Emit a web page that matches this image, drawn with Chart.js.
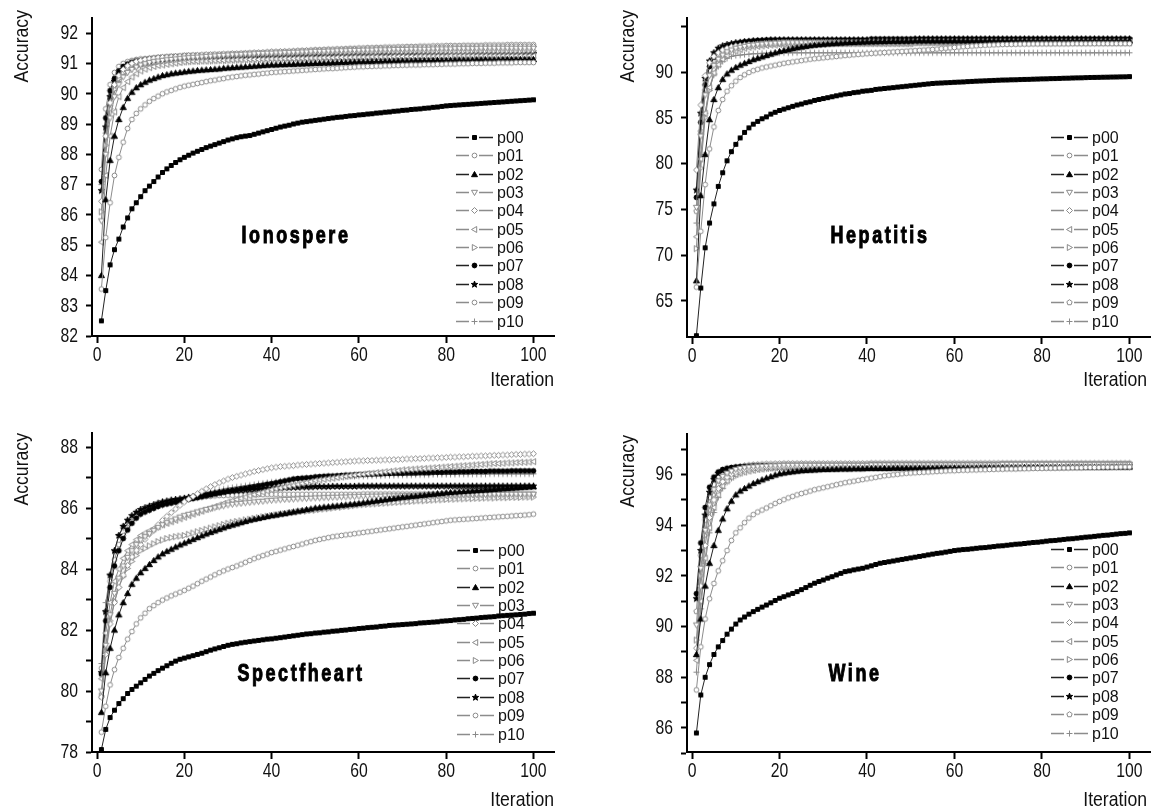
<!DOCTYPE html>
<html>
<head>
<meta charset="utf-8">
<title>Accuracy vs iteration</title>
<script src="https://cdn.jsdelivr.net/npm/chart.js@4.4.1/dist/chart.umd.min.js"></script>
<style>
  html, body { margin: 0; padding: 0; background: #fff; }
  #page { position: relative; width: 1156px; height: 809px; overflow: hidden; }
  .cell { position: absolute; }
</style>
</head>
<body>
<div id="page">
  <div class="cell" style="left:0;top:0;width:578px;height:404px"><canvas id="ion"></canvas></div>
  <div class="cell" style="left:578px;top:0;width:578px;height:404px"><canvas id="hep"></canvas></div>
  <div class="cell" style="left:0;top:404px;width:578px;height:405px"><canvas id="spe"></canvas></div>
  <div class="cell" style="left:578px;top:404px;width:578px;height:405px"><canvas id="win"></canvas></div>
</div>
<script>
// iterations 1..100 on the x axis
const iterations = Array.from({ length: 100 }, (_, i) => i + 1);
const seriesNames = ["p00", "p01", "p02", "p03", "p04", "p05", "p06", "p07", "p08", "p09", "p10"];
const xTicks = [0, 20, 40, 60, 80, 100];

const ionYTicks = [82, 83, 84, 85, 86, 87, 88, 89, 90, 91, 92];
const ionYLabels = [82, 83, 84, 85, 86, 87, 88, 89, 90, 91, 92];
const hepYTicks = [65, 70, 75, 80, 85, 90, 95];
const hepYLabels = [65, 70, 75, 80, 85, 90];
const speYTicks = [78, 79, 80, 81, 82, 83, 84, 85, 86, 87, 88];
const speYLabels = [78, 80, 82, 84, 86, 88];
const winYTicks = [85, 86, 87, 88, 89, 90, 91, 92, 93, 94, 95, 96, 97];
const winYLabels = [86, 88, 90, 92, 94, 96];

// ---- Ionospere, accuracy per iteration ----
const ionospere = [
  // p00
  [82.5, 83.5, 84.35, 84.85, 85.2, 85.6, 85.9, 86.2, 86.4, 86.6,
   86.8, 86.95, 87.1, 87.25, 87.4, 87.52, 87.63, 87.73, 87.82, 87.9,
   87.97, 88.04, 88.1, 88.16, 88.22, 88.27, 88.32, 88.37, 88.42, 88.47,
   88.51, 88.55, 88.58, 88.6, 88.62, 88.66, 88.7, 88.74, 88.78, 88.82,
   88.86, 88.9, 88.93, 88.96, 89, 89.03, 89.06, 89.08, 89.1, 89.12,
   89.14, 89.16, 89.18, 89.2, 89.22, 89.23, 89.25, 89.27, 89.28, 89.3,
   89.31, 89.33, 89.34, 89.36, 89.37, 89.39, 89.4, 89.42, 89.43, 89.45,
   89.46, 89.48, 89.49, 89.5, 89.52, 89.53, 89.55, 89.56, 89.58, 89.6,
   89.61, 89.62, 89.63, 89.64, 89.65, 89.66, 89.67, 89.68, 89.69, 89.7,
   89.71, 89.72, 89.73, 89.74, 89.75, 89.76, 89.77, 89.78, 89.79, 89.8],
  // p01
  [83.55, 85.25, 86.4, 87.3, 87.9, 88.4, 88.85, 89.15, 89.35, 89.5,
   89.63, 89.75, 89.84, 89.92, 90, 90.06, 90.11, 90.16, 90.21, 90.25,
   90.28, 90.31, 90.34, 90.37, 90.4, 90.43, 90.45, 90.48, 90.5, 90.53,
   90.55, 90.57, 90.59, 90.61, 90.62, 90.64, 90.65, 90.67, 90.68, 90.7,
   90.71, 90.72, 90.73, 90.74, 90.75, 90.76, 90.77, 90.78, 90.79, 90.8,
   90.81, 90.82, 90.83, 90.83, 90.84, 90.85, 90.86, 90.87, 90.88, 90.89,
   90.89, 90.9, 90.9, 90.91, 90.91, 90.92, 90.92, 90.93, 90.93, 90.94,
   90.94, 90.95, 90.95, 90.95, 90.96, 90.96, 90.96, 90.97, 90.97, 90.98,
   90.98, 90.98, 90.99, 90.99, 90.99, 91, 91, 91, 91.01, 91.01,
   91.01, 91.02, 91.02, 91.02, 91.02, 91.03, 91.03, 91.03, 91.03, 91.03],
  // p02
  [84, 86.5, 87.8, 88.6, 89.15, 89.55, 89.85, 90.05, 90.2, 90.3,
   90.38, 90.45, 90.5, 90.55, 90.6, 90.63, 90.66, 90.68, 90.7, 90.72,
   90.74, 90.75, 90.77, 90.78, 90.79, 90.8, 90.81, 90.82, 90.84, 90.85,
   90.86, 90.87, 90.88, 90.89, 90.9, 90.91, 90.92, 90.93, 90.94, 90.95,
   90.95, 90.96, 90.96, 90.97, 90.97, 90.98, 90.98, 90.99, 90.99, 91,
   91, 91.01, 91.01, 91.02, 91.02, 91.03, 91.03, 91.04, 91.04, 91.05,
   91.05, 91.05, 91.06, 91.06, 91.06, 91.07, 91.07, 91.07, 91.08, 91.08,
   91.08, 91.08, 91.09, 91.09, 91.09, 91.09, 91.1, 91.1, 91.1, 91.1,
   91.1, 91.11, 91.11, 91.11, 91.11, 91.11, 91.12, 91.12, 91.12, 91.12,
   91.12, 91.12, 91.13, 91.13, 91.13, 91.13, 91.13, 91.13, 91.13, 91.13],
  // p03
  [85.8, 88, 89.2, 89.9, 90.3, 90.55, 90.7, 90.8, 90.88, 90.95,
   90.99, 91.03, 91.06, 91.08, 91.1, 91.12, 91.13, 91.15, 91.16, 91.18,
   91.19, 91.2, 91.21, 91.22, 91.23, 91.24, 91.25, 91.26, 91.27, 91.28,
   91.29, 91.29, 91.3, 91.31, 91.31, 91.32, 91.33, 91.33, 91.34, 91.34,
   91.35, 91.35, 91.36, 91.36, 91.37, 91.37, 91.38, 91.38, 91.39, 91.4,
   91.4, 91.4, 91.41, 91.41, 91.42, 91.42, 91.42, 91.43, 91.43, 91.43,
   91.44, 91.44, 91.44, 91.45, 91.45, 91.45, 91.45, 91.46, 91.46, 91.46,
   91.46, 91.47, 91.47, 91.47, 91.47, 91.47, 91.48, 91.48, 91.48, 91.48,
   91.48, 91.49, 91.49, 91.49, 91.49, 91.49, 91.49, 91.5, 91.5, 91.5,
   91.5, 91.5, 91.5, 91.5, 91.5, 91.5, 91.5, 91.5, 91.5, 91.5],
  // p04
  [86.45, 88.6, 89.7, 90.3, 90.6, 90.8, 90.92, 91, 91.06, 91.1,
   91.13, 91.15, 91.17, 91.19, 91.2, 91.21, 91.22, 91.23, 91.24, 91.25,
   91.26, 91.27, 91.27, 91.28, 91.29, 91.29, 91.3, 91.3, 91.31, 91.31,
   91.32, 91.32, 91.33, 91.33, 91.34, 91.35, 91.35, 91.36, 91.37, 91.38,
   91.38, 91.39, 91.39, 91.4, 91.4, 91.41, 91.41, 91.42, 91.42, 91.43,
   91.43, 91.44, 91.44, 91.44, 91.45, 91.45, 91.46, 91.46, 91.46, 91.47,
   91.47, 91.48, 91.48, 91.48, 91.49, 91.49, 91.49, 91.5, 91.5, 91.5,
   91.51, 91.51, 91.51, 91.52, 91.52, 91.52, 91.52, 91.53, 91.53, 91.53,
   91.53, 91.54, 91.54, 91.54, 91.54, 91.54, 91.55, 91.55, 91.55, 91.55,
   91.55, 91.55, 91.56, 91.56, 91.56, 91.56, 91.56, 91.56, 91.56, 91.56],
  // p05
  [85.1, 87.3, 88.6, 89.4, 89.9, 90.2, 90.4, 90.55, 90.66, 90.75,
   90.81, 90.86, 90.9, 90.93, 90.95, 90.97, 90.99, 91.01, 91.03, 91.05,
   91.06, 91.07, 91.07, 91.08, 91.08, 91.09, 91.09, 91.1, 91.1, 91.11,
   91.11, 91.12, 91.12, 91.12, 91.13, 91.13, 91.13, 91.14, 91.14, 91.15,
   91.15, 91.15, 91.16, 91.16, 91.16, 91.17, 91.17, 91.17, 91.18, 91.18,
   91.18, 91.19, 91.19, 91.19, 91.2, 91.2, 91.2, 91.2, 91.21, 91.21,
   91.21, 91.21, 91.22, 91.22, 91.22, 91.22, 91.22, 91.23, 91.23, 91.23,
   91.23, 91.23, 91.23, 91.24, 91.24, 91.24, 91.24, 91.24, 91.24, 91.24,
   91.25, 91.25, 91.25, 91.25, 91.25, 91.25, 91.25, 91.25, 91.25, 91.25,
   91.25, 91.25, 91.25, 91.25, 91.25, 91.25, 91.25, 91.25, 91.25, 91.25],
  // p06
  [86.1, 88.3, 89.5, 90.15, 90.5, 90.7, 90.84, 90.94, 91.01, 91.06,
   91.1, 91.13, 91.15, 91.17, 91.19, 91.2, 91.21, 91.22, 91.23, 91.24,
   91.25, 91.25, 91.26, 91.26, 91.27, 91.27, 91.28, 91.28, 91.29, 91.29,
   91.3, 91.3, 91.3, 91.31, 91.31, 91.31, 91.32, 91.32, 91.32, 91.33,
   91.33, 91.33, 91.34, 91.34, 91.34, 91.35, 91.35, 91.35, 91.35, 91.36,
   91.36, 91.36, 91.36, 91.37, 91.37, 91.37, 91.37, 91.37, 91.38, 91.38,
   91.38, 91.38, 91.38, 91.38, 91.39, 91.39, 91.39, 91.39, 91.39, 91.39,
   91.39, 91.4, 91.4, 91.4, 91.4, 91.4, 91.4, 91.4, 91.4, 91.4,
   91.4, 91.4, 91.4, 91.4, 91.4, 91.41, 91.41, 91.41, 91.41, 91.41,
   91.41, 91.41, 91.41, 91.41, 91.41, 91.41, 91.41, 91.42, 91.42, 91.42],
  // p07
  [87.1, 89.2, 90.1, 90.5, 90.75, 90.9, 90.98, 91.04, 91.08, 91.1,
   91.12, 91.14, 91.16, 91.18, 91.19, 91.2, 91.21, 91.22, 91.23, 91.24,
   91.24, 91.25, 91.25, 91.25, 91.26, 91.26, 91.26, 91.27, 91.27, 91.27,
   91.27, 91.28, 91.28, 91.28, 91.28, 91.29, 91.29, 91.29, 91.29, 91.3,
   91.3, 91.3, 91.3, 91.3, 91.31, 91.31, 91.31, 91.31, 91.31, 91.31,
   91.32, 91.32, 91.32, 91.32, 91.32, 91.32, 91.32, 91.33, 91.33, 91.33,
   91.33, 91.33, 91.33, 91.33, 91.33, 91.34, 91.34, 91.34, 91.34, 91.34,
   91.34, 91.34, 91.34, 91.34, 91.34, 91.35, 91.35, 91.35, 91.35, 91.35,
   91.35, 91.35, 91.35, 91.35, 91.35, 91.35, 91.35, 91.35, 91.35, 91.35,
   91.35, 91.35, 91.35, 91.35, 91.35, 91.35, 91.35, 91.35, 91.35, 91.35],
  // p08
  [86.8, 88.9, 89.9, 90.4, 90.65, 90.8, 90.9, 90.96, 91.01, 91.05,
   91.07, 91.09, 91.11, 91.13, 91.14, 91.15, 91.16, 91.17, 91.18, 91.19,
   91.19, 91.2, 91.2, 91.21, 91.21, 91.21, 91.22, 91.22, 91.22, 91.23,
   91.23, 91.23, 91.24, 91.24, 91.24, 91.24, 91.25, 91.25, 91.25, 91.25,
   91.26, 91.26, 91.26, 91.26, 91.27, 91.27, 91.27, 91.27, 91.28, 91.28,
   91.28, 91.28, 91.28, 91.29, 91.29, 91.29, 91.29, 91.29, 91.29, 91.3,
   91.3, 91.3, 91.3, 91.3, 91.3, 91.3, 91.31, 91.31, 91.31, 91.31,
   91.31, 91.31, 91.31, 91.31, 91.31, 91.32, 91.32, 91.32, 91.32, 91.32,
   91.32, 91.32, 91.32, 91.32, 91.32, 91.32, 91.32, 91.32, 91.32, 91.32,
   91.32, 91.32, 91.32, 91.32, 91.32, 91.32, 91.32, 91.32, 91.32, 91.32],
  // p09
  [87.5, 89.5, 90.3, 90.7, 90.9, 91, 91.06, 91.1, 91.13, 91.15,
   91.16, 91.17, 91.18, 91.19, 91.2, 91.21, 91.22, 91.23, 91.23, 91.24,
   91.25, 91.25, 91.26, 91.26, 91.27, 91.27, 91.28, 91.28, 91.29, 91.3,
   91.31, 91.31, 91.32, 91.33, 91.34, 91.35, 91.35, 91.36, 91.37, 91.38,
   91.38, 91.39, 91.4, 91.4, 91.41, 91.42, 91.43, 91.43, 91.44, 91.45,
   91.45, 91.46, 91.47, 91.47, 91.48, 91.48, 91.49, 91.5, 91.5, 91.51,
   91.51, 91.52, 91.52, 91.53, 91.53, 91.54, 91.54, 91.54, 91.55, 91.55,
   91.56, 91.56, 91.56, 91.57, 91.57, 91.57, 91.58, 91.58, 91.58, 91.59,
   91.59, 91.59, 91.59, 91.6, 91.6, 91.6, 91.6, 91.6, 91.61, 91.61,
   91.61, 91.61, 91.61, 91.62, 91.62, 91.62, 91.62, 91.62, 91.62, 91.62],
  // p10
  [87, 88.7, 89.6, 90.1, 90.4, 90.6, 90.71, 90.8, 90.86, 90.9,
   90.93, 90.95, 90.97, 90.98, 91, 91.01, 91.02, 91.03, 91.04, 91.05,
   91.05, 91.06, 91.06, 91.07, 91.07, 91.07, 91.08, 91.08, 91.08, 91.09,
   91.09, 91.09, 91.09, 91.1, 91.1, 91.1, 91.1, 91.1, 91.1, 91.1,
   91.11, 91.11, 91.11, 91.11, 91.11, 91.12, 91.12, 91.12, 91.12, 91.12,
   91.13, 91.13, 91.13, 91.13, 91.13, 91.14, 91.14, 91.14, 91.14, 91.14,
   91.15, 91.15, 91.15, 91.15, 91.15, 91.15, 91.16, 91.16, 91.16, 91.16,
   91.16, 91.16, 91.16, 91.17, 91.17, 91.17, 91.17, 91.17, 91.17, 91.17,
   91.17, 91.17, 91.18, 91.18, 91.18, 91.18, 91.18, 91.18, 91.18, 91.18,
   91.18, 91.18, 91.18, 91.18, 91.18, 91.18, 91.18, 91.18, 91.18, 91.18]
];

// ---- Hepatitis ----
const hepatitis = [
  // p00
  [61.2, 66.4, 70.8, 73.5, 75.6, 77.5, 79, 80.3, 81.3, 82.1,
   82.8, 83.4, 83.9, 84.3, 84.6, 84.9, 85.1, 85.4, 85.6, 85.8,
   85.95, 86.1, 86.25, 86.4, 86.5, 86.65, 86.75, 86.9, 87, 87.1,
   87.2, 87.3, 87.4, 87.5, 87.6, 87.65, 87.75, 87.8, 87.9, 87.95,
   88, 88.1, 88.15, 88.2, 88.25, 88.3, 88.35, 88.4, 88.45, 88.5,
   88.55, 88.6, 88.65, 88.7, 88.75, 88.78, 88.8, 88.83, 88.85, 88.88,
   88.9, 88.92, 88.95, 88.97, 89, 89.02, 89.04, 89.06, 89.08, 89.1,
   89.12, 89.13, 89.15, 89.16, 89.18, 89.19, 89.2, 89.22, 89.23, 89.25,
   89.26, 89.28, 89.29, 89.3, 89.32, 89.33, 89.35, 89.36, 89.37, 89.39,
   89.4, 89.41, 89.42, 89.43, 89.44, 89.45, 89.46, 89.47, 89.48, 89.5],
  // p01
  [66.5, 72.6, 77.7, 81.6, 84, 85.8, 87, 87.9, 88.5, 89,
   89.4, 89.7, 89.95, 90.15, 90.3, 90.45, 90.55, 90.65, 90.75, 90.85,
   90.95, 91.03, 91.1, 91.18, 91.25, 91.32, 91.4, 91.45, 91.5, 91.55,
   91.6, 91.65, 91.7, 91.75, 91.8, 91.84, 91.88, 91.92, 91.96, 92,
   92.03, 92.06, 92.1, 92.13, 92.16, 92.19, 92.22, 92.25, 92.28, 92.31,
   92.34, 92.37, 92.4, 92.43, 92.46, 92.5, 92.55, 92.6, 92.64, 92.68,
   92.72, 92.76, 92.8, 92.83, 92.86, 92.89, 92.92, 92.94, 92.96, 92.98,
   93, 93.01, 93.02, 93.03, 93.04, 93.05, 93.05, 93.06, 93.06, 93.07,
   93.07, 93.07, 93.08, 93.08, 93.08, 93.08, 93.09, 93.09, 93.09, 93.09,
   93.09, 93.1, 93.1, 93.1, 93.1, 93.1, 93.1, 93.1, 93.1, 93.1],
  // p02
  [67.2, 76.5, 81, 84.8, 87, 88.3, 89.2, 89.8, 90.2, 90.5,
   90.75, 90.95, 91.15, 91.35, 91.5, 91.65, 91.8, 91.95, 92.1, 92.25,
   92.35, 92.45, 92.55, 92.65, 92.72, 92.8, 92.87, 92.93, 92.98, 93.03,
   93.07, 93.1, 93.13, 93.16, 93.19, 93.21, 93.23, 93.25, 93.27, 93.29,
   93.3, 93.31, 93.32, 93.33, 93.34, 93.35, 93.35, 93.36, 93.36, 93.37,
   93.4, 93.4, 93.4, 93.4, 93.4, 93.4, 93.4, 93.4, 93.4, 93.4,
   93.4, 93.4, 93.4, 93.4, 93.4, 93.4, 93.4, 93.4, 93.4, 93.4,
   93.4, 93.4, 93.4, 93.4, 93.4, 93.4, 93.4, 93.4, 93.4, 93.4,
   93.4, 93.4, 93.4, 93.4, 93.4, 93.4, 93.4, 93.4, 93.4, 93.4,
   93.4, 93.4, 93.4, 93.4, 93.4, 93.4, 93.4, 93.4, 93.4, 93.4],
  // p03
  [75.2, 83, 87.5, 89.6, 90.7, 91.4, 91.85, 92.2, 92.4, 92.6,
   92.7, 92.8, 92.9, 92.95, 93, 93.05, 93.1, 93.1, 93.15, 93.15,
   93.2, 93.2, 93.2, 93.2, 93.2, 93.2, 93.2, 93.2, 93.2, 93.2,
   93.2, 93.2, 93.2, 93.2, 93.2, 93.2, 93.2, 93.2, 93.2, 93.2,
   93.2, 93.2, 93.2, 93.2, 93.2, 93.2, 93.2, 93.2, 93.2, 93.2,
   93.3, 93.3, 93.3, 93.3, 93.3, 93.3, 93.3, 93.3, 93.3, 93.3,
   93.3, 93.3, 93.3, 93.3, 93.3, 93.3, 93.3, 93.3, 93.3, 93.3,
   93.3, 93.3, 93.3, 93.3, 93.3, 93.3, 93.3, 93.3, 93.3, 93.3,
   93.3, 93.3, 93.3, 93.3, 93.3, 93.3, 93.3, 93.3, 93.3, 93.3,
   93.3, 93.3, 93.3, 93.3, 93.3, 93.3, 93.3, 93.3, 93.3, 93.3],
  // p04
  [79.3, 86.4, 89.6, 91, 91.7, 92.1, 92.4, 92.6, 92.75, 92.85,
   92.9, 92.95, 93, 93, 93.05, 93.05, 93.1, 93.1, 93.1, 93.15,
   93.2, 93.2, 93.2, 93.2, 93.2, 93.2, 93.2, 93.2, 93.2, 93.2,
   93.2, 93.2, 93.2, 93.2, 93.2, 93.2, 93.2, 93.2, 93.2, 93.2,
   93.2, 93.2, 93.2, 93.2, 93.2, 93.2, 93.2, 93.2, 93.2, 93.2,
   93.2, 93.2, 93.2, 93.2, 93.2, 93.2, 93.2, 93.2, 93.2, 93.2,
   93.2, 93.2, 93.2, 93.2, 93.2, 93.2, 93.2, 93.2, 93.2, 93.2,
   93.2, 93.2, 93.2, 93.2, 93.2, 93.2, 93.2, 93.2, 93.2, 93.2,
   93.2, 93.2, 93.2, 93.2, 93.2, 93.2, 93.2, 93.2, 93.2, 93.2,
   93.2, 93.2, 93.2, 93.2, 93.2, 93.2, 93.2, 93.2, 93.2, 93.2],
  // p05
  [72, 80.5, 85.5, 88.3, 89.9, 90.8, 91.4, 91.8, 92.1, 92.3,
   92.45, 92.6, 92.7, 92.75, 92.8, 92.85, 92.9, 92.95, 92.95, 93,
   93, 93, 93, 93, 93, 93, 93, 93, 93, 93,
   93.1, 93.1, 93.1, 93.1, 93.1, 93.1, 93.1, 93.1, 93.1, 93.1,
   93.1, 93.1, 93.1, 93.1, 93.1, 93.1, 93.1, 93.1, 93.1, 93.1,
   93.2, 93.2, 93.2, 93.2, 93.2, 93.2, 93.2, 93.2, 93.2, 93.2,
   93.2, 93.2, 93.2, 93.2, 93.2, 93.2, 93.2, 93.2, 93.2, 93.2,
   93.2, 93.2, 93.2, 93.2, 93.2, 93.2, 93.2, 93.2, 93.2, 93.2,
   93.2, 93.2, 93.2, 93.2, 93.2, 93.2, 93.2, 93.2, 93.2, 93.2,
   93.2, 93.2, 93.2, 93.2, 93.2, 93.2, 93.2, 93.2, 93.2, 93.2],
  // p06
  [70.7, 79.5, 85, 88, 89.8, 90.9, 91.6, 92, 92.3, 92.5,
   92.65, 92.75, 92.85, 92.9, 93, 93.05, 93.1, 93.15, 93.15, 93.2,
   93.2, 93.2, 93.2, 93.2, 93.2, 93.2, 93.2, 93.2, 93.2, 93.2,
   93.2, 93.2, 93.2, 93.2, 93.2, 93.2, 93.2, 93.2, 93.2, 93.2,
   93.3, 93.3, 93.3, 93.3, 93.3, 93.3, 93.3, 93.3, 93.3, 93.3,
   93.3, 93.3, 93.3, 93.3, 93.3, 93.3, 93.3, 93.3, 93.3, 93.3,
   93.3, 93.3, 93.3, 93.3, 93.3, 93.3, 93.3, 93.3, 93.3, 93.3,
   93.3, 93.3, 93.3, 93.3, 93.3, 93.3, 93.3, 93.3, 93.3, 93.3,
   93.3, 93.3, 93.3, 93.3, 93.3, 93.3, 93.3, 93.3, 93.3, 93.3,
   93.3, 93.3, 93.3, 93.3, 93.3, 93.3, 93.3, 93.3, 93.3, 93.3],
  // p07
  [76.3, 84.5, 88.6, 90.6, 91.6, 92.2, 92.55, 92.8, 92.95, 93.1,
   93.2, 93.3, 93.35, 93.4, 93.45, 93.45, 93.5, 93.5, 93.5, 93.5,
   93.5, 93.5, 93.5, 93.5, 93.5, 93.5, 93.5, 93.5, 93.5, 93.5,
   93.5, 93.5, 93.5, 93.5, 93.5, 93.5, 93.5, 93.5, 93.5, 93.5,
   93.6, 93.6, 93.6, 93.6, 93.6, 93.6, 93.6, 93.6, 93.6, 93.6,
   93.6, 93.6, 93.6, 93.6, 93.6, 93.6, 93.6, 93.6, 93.6, 93.6,
   93.6, 93.6, 93.6, 93.6, 93.6, 93.6, 93.6, 93.6, 93.6, 93.6,
   93.6, 93.6, 93.6, 93.6, 93.6, 93.6, 93.6, 93.6, 93.6, 93.6,
   93.6, 93.6, 93.6, 93.6, 93.6, 93.6, 93.6, 93.6, 93.6, 93.6,
   93.6, 93.6, 93.6, 93.6, 93.6, 93.6, 93.6, 93.6, 93.6, 93.6],
  // p08
  [77.1, 85.5, 89.3, 91.2, 92.1, 92.6, 92.85, 93, 93.1, 93.2,
   93.25, 93.3, 93.35, 93.4, 93.4, 93.45, 93.45, 93.5, 93.5, 93.5,
   93.5, 93.5, 93.5, 93.5, 93.5, 93.5, 93.5, 93.5, 93.5, 93.5,
   93.5, 93.5, 93.5, 93.5, 93.5, 93.5, 93.5, 93.5, 93.5, 93.5,
   93.5, 93.5, 93.5, 93.5, 93.5, 93.5, 93.5, 93.5, 93.5, 93.5,
   93.6, 93.6, 93.6, 93.6, 93.6, 93.6, 93.6, 93.6, 93.6, 93.6,
   93.6, 93.6, 93.6, 93.6, 93.6, 93.6, 93.6, 93.6, 93.6, 93.6,
   93.6, 93.6, 93.6, 93.6, 93.6, 93.6, 93.6, 93.6, 93.6, 93.6,
   93.6, 93.6, 93.6, 93.6, 93.6, 93.6, 93.6, 93.6, 93.6, 93.6,
   93.6, 93.6, 93.6, 93.6, 93.6, 93.6, 93.6, 93.6, 93.6, 93.6],
  // p09
  [74.8, 83.5, 88, 90.2, 91.3, 91.9, 92.25, 92.5, 92.65, 92.75,
   92.85, 92.9, 92.95, 93, 93, 93.05, 93.05, 93.1, 93.1, 93.1,
   93.1, 93.1, 93.1, 93.1, 93.1, 93.1, 93.1, 93.1, 93.1, 93.1,
   93.1, 93.1, 93.1, 93.1, 93.1, 93.1, 93.1, 93.1, 93.1, 93.1,
   93.1, 93.1, 93.1, 93.1, 93.1, 93.1, 93.1, 93.1, 93.1, 93.1,
   93.2, 93.2, 93.2, 93.2, 93.2, 93.2, 93.2, 93.2, 93.2, 93.2,
   93.2, 93.2, 93.2, 93.2, 93.2, 93.2, 93.2, 93.2, 93.2, 93.2,
   93.2, 93.2, 93.2, 93.2, 93.2, 93.2, 93.2, 93.2, 93.2, 93.2,
   93.2, 93.2, 93.2, 93.2, 93.2, 93.2, 93.2, 93.2, 93.2, 93.2,
   93.2, 93.2, 93.2, 93.2, 93.2, 93.2, 93.2, 93.2, 93.2, 93.2],
  // p10
  [73.5, 81, 85.5, 88.2, 89.7, 90.6, 91.15, 91.5, 91.7, 91.8,
   91.85, 91.9, 91.95, 92, 92, 92.05, 92.05, 92.1, 92.1, 92.1,
   92.1, 92.1, 92.1, 92.1, 92.1, 92.1, 92.1, 92.1, 92.1, 92.1,
   92.1, 92.1, 92.1, 92.1, 92.1, 92.1, 92.1, 92.1, 92.1, 92.1,
   92.1, 92.1, 92.1, 92.1, 92.1, 92.1, 92.1, 92.1, 92.1, 92.1,
   92.1, 92.1, 92.1, 92.1, 92.1, 92.1, 92.1, 92.1, 92.1, 92.1,
   92.1, 92.1, 92.1, 92.1, 92.1, 92.1, 92.1, 92.1, 92.1, 92.1,
   92.1, 92.1, 92.1, 92.1, 92.1, 92.1, 92.1, 92.1, 92.1, 92.1,
   92.1, 92.1, 92.1, 92.1, 92.1, 92.1, 92.1, 92.1, 92.1, 92.1,
   92.1, 92.1, 92.1, 92.1, 92.1, 92.1, 92.1, 92.1, 92.1, 92.1]
];

// ---- Spectfheart ----
const spectfheart = [
  // p00
  [78.08, 78.74, 79.13, 79.37, 79.59, 79.75, 79.92, 80.05, 80.16, 80.27,
   80.38, 80.49, 80.58, 80.67, 80.75, 80.83, 80.91, 80.98, 81.04, 81.08,
   81.12, 81.16, 81.2, 81.24, 81.29, 81.34, 81.38, 81.42, 81.46, 81.5,
   81.53, 81.55, 81.58, 81.6, 81.62, 81.64, 81.66, 81.68, 81.7, 81.71,
   81.73, 81.75, 81.77, 81.79, 81.81, 81.83, 81.85, 81.87, 81.88, 81.9,
   81.91, 81.93, 81.94, 81.96, 81.97, 81.99, 82, 82.02, 82.03, 82.05,
   82.06, 82.08, 82.09, 82.1, 82.12, 82.13, 82.15, 82.16, 82.17, 82.18,
   82.19, 82.2, 82.21, 82.23, 82.24, 82.25, 82.26, 82.27, 82.29, 82.3,
   82.31, 82.33, 82.34, 82.35, 82.37, 82.38, 82.39, 82.41, 82.42, 82.43,
   82.44, 82.46, 82.47, 82.48, 82.49, 82.5, 82.51, 82.52, 82.54, 82.55],
  // p01
  [78.65, 79.5, 80.2, 80.7, 81.1, 81.4, 81.7, 81.95, 82.2, 82.4,
   82.55, 82.7, 82.8, 82.9, 82.98, 83.05, 83.12, 83.18, 83.24, 83.3,
   83.37, 83.44, 83.52, 83.6, 83.67, 83.74, 83.81, 83.88, 83.94, 84,
   84.05, 84.1, 84.16, 84.22, 84.28, 84.34, 84.39, 84.44, 84.49, 84.54,
   84.58, 84.62, 84.66, 84.7, 84.74, 84.78, 84.82, 84.86, 84.9, 84.94,
   84.97, 85, 85.03, 85.06, 85.08, 85.1, 85.12, 85.14, 85.16, 85.18,
   85.2, 85.22, 85.24, 85.26, 85.28, 85.3, 85.32, 85.34, 85.36, 85.38,
   85.4, 85.42, 85.44, 85.46, 85.48, 85.5, 85.52, 85.54, 85.56, 85.58,
   85.6, 85.61, 85.62, 85.63, 85.64, 85.65, 85.66, 85.67, 85.68, 85.69,
   85.7, 85.71, 85.72, 85.73, 85.74, 85.75, 85.76, 85.77, 85.78, 85.8],
  // p02
  [79.3, 80.6, 81.4, 82, 82.5, 82.9, 83.2, 83.5, 83.7, 83.88,
   84.02, 84.15, 84.28, 84.4, 84.5, 84.58, 84.65, 84.72, 84.79, 84.85,
   84.91, 84.97, 85.03, 85.09, 85.15, 85.2, 85.25, 85.3, 85.35, 85.4,
   85.44, 85.48, 85.52, 85.56, 85.6, 85.63, 85.66, 85.69, 85.72, 85.75,
   85.77, 85.8, 85.82, 85.85, 85.87, 85.9, 85.92, 85.95, 85.97, 86,
   86.01, 86.03, 86.04, 86.06, 86.07, 86.09, 86.1, 86.12, 86.13, 86.15,
   86.17, 86.19, 86.21, 86.23, 86.25, 86.27, 86.29, 86.31, 86.33, 86.35,
   86.36, 86.38, 86.39, 86.41, 86.42, 86.44, 86.45, 86.47, 86.48, 86.5,
   86.51, 86.52, 86.53, 86.54, 86.55, 86.56, 86.57, 86.58, 86.59, 86.6,
   86.61, 86.62, 86.63, 86.64, 86.65, 86.66, 86.67, 86.68, 86.69, 86.7],
  // p03
  [80, 81.5, 82.5, 83.2, 83.7, 84.1, 84.38, 84.6, 84.8, 84.95,
   85.06, 85.16, 85.26, 85.36, 85.45, 85.52, 85.58, 85.64, 85.7, 85.75,
   85.79, 85.83, 85.87, 85.91, 85.95, 85.98, 86.01, 86.04, 86.07, 86.1,
   86.12, 86.14, 86.15, 86.17, 86.18, 86.2, 86.21, 86.22, 86.24, 86.25,
   86.26, 86.27, 86.28, 86.28, 86.29, 86.3, 86.31, 86.31, 86.32, 86.33,
   86.33, 86.34, 86.34, 86.35, 86.35, 86.36, 86.36, 86.37, 86.37, 86.38,
   86.38, 86.38, 86.39, 86.39, 86.39, 86.4, 86.4, 86.4, 86.4, 86.41,
   86.41, 86.41, 86.41, 86.42, 86.42, 86.42, 86.42, 86.42, 86.43, 86.43,
   86.43, 86.43, 86.43, 86.44, 86.44, 86.44, 86.44, 86.44, 86.44, 86.44,
   86.45, 86.45, 86.45, 86.45, 86.45, 86.45, 86.45, 86.45, 86.45, 86.45],
  // p04
  [79.8, 81.2, 82.2, 82.9, 83.4, 83.8, 84.12, 84.4, 84.62, 84.8,
   84.98, 85.15, 85.3, 85.45, 85.6, 85.73, 85.85, 85.97, 86.09, 86.2,
   86.29, 86.38, 86.47, 86.55, 86.63, 86.7, 86.77, 86.83, 86.89, 86.95,
   87, 87.04, 87.08, 87.12, 87.16, 87.2, 87.23, 87.26, 87.29, 87.32,
   87.34, 87.36, 87.37, 87.38, 87.39, 87.41, 87.42, 87.43, 87.44, 87.45,
   87.46, 87.47, 87.48, 87.49, 87.5, 87.51, 87.52, 87.53, 87.54, 87.55,
   87.55, 87.56, 87.56, 87.57, 87.57, 87.58, 87.58, 87.59, 87.59, 87.6,
   87.61, 87.61, 87.62, 87.62, 87.63, 87.64, 87.64, 87.65, 87.65, 87.66,
   87.67, 87.67, 87.68, 87.68, 87.69, 87.7, 87.7, 87.71, 87.71, 87.72,
   87.73, 87.73, 87.74, 87.74, 87.75, 87.76, 87.76, 87.77, 87.77, 87.78],
  // p05
  [80.4, 81.9, 82.9, 83.6, 84, 84.35, 84.6, 84.8, 84.96, 85.1,
   85.18, 85.25, 85.32, 85.39, 85.45, 85.5, 85.55, 85.6, 85.65, 85.7,
   85.75, 85.8, 85.85, 85.9, 85.95, 86, 86.05, 86.1, 86.15, 86.2,
   86.24, 86.28, 86.32, 86.36, 86.4, 86.44, 86.48, 86.52, 86.56, 86.6,
   86.63, 86.66, 86.69, 86.72, 86.75, 86.78, 86.81, 86.84, 86.87, 86.9,
   86.92, 86.94, 86.96, 86.98, 87, 87.02, 87.04, 87.06, 87.08, 87.1,
   87.11, 87.13, 87.14, 87.16, 87.17, 87.19, 87.2, 87.22, 87.23, 87.25,
   87.26, 87.27, 87.28, 87.29, 87.3, 87.31, 87.32, 87.33, 87.34, 87.35,
   87.36, 87.37, 87.38, 87.39, 87.4, 87.41, 87.42, 87.43, 87.44, 87.45,
   87.46, 87.46, 87.47, 87.48, 87.48, 87.49, 87.5, 87.5, 87.51, 87.52],
  // p06
  [79.84, 81.3, 82.3, 82.95, 83.4, 83.75, 84.02, 84.25, 84.44, 84.6,
   84.68, 84.76, 84.83, 84.9, 84.95, 85, 85.03, 85.06, 85.08, 85.1,
   85.14, 85.18, 85.22, 85.26, 85.3, 85.34, 85.38, 85.42, 85.46, 85.5,
   85.53, 85.56, 85.58, 85.61, 85.63, 85.66, 85.68, 85.71, 85.73, 85.75,
   85.77, 85.79, 85.81, 85.83, 85.85, 85.87, 85.89, 85.9, 85.92, 85.93,
   85.95, 85.97, 85.98, 86, 86.02, 86.03, 86.05, 86.06, 86.08, 86.1,
   86.11, 86.12, 86.13, 86.14, 86.15, 86.16, 86.17, 86.18, 86.19, 86.2,
   86.21, 86.22, 86.23, 86.24, 86.24, 86.25, 86.26, 86.27, 86.27, 86.28,
   86.29, 86.29, 86.3, 86.3, 86.31, 86.31, 86.32, 86.32, 86.33, 86.33,
   86.33, 86.34, 86.34, 86.34, 86.35, 86.35, 86.35, 86.36, 86.36, 86.36],
  // p07
  [80.56, 82.3, 83.4, 84.1, 84.6, 85, 85.28, 85.5, 85.67, 85.8,
   85.87, 85.93, 85.99, 86.05, 86.1, 86.13, 86.16, 86.19, 86.22, 86.25,
   86.28, 86.31, 86.34, 86.37, 86.4, 86.43, 86.46, 86.49, 86.52, 86.55,
   86.58, 86.6, 86.63, 86.65, 86.68, 86.7, 86.73, 86.75, 86.78, 86.8,
   86.83, 86.86, 86.89, 86.92, 86.95, 86.97, 86.98, 86.99, 87, 87.02,
   87.03, 87.04, 87.05, 87.05, 87.06, 87.07, 87.08, 87.08, 87.09, 87.1,
   87.1, 87.11, 87.11, 87.12, 87.12, 87.13, 87.13, 87.14, 87.14, 87.14,
   87.15, 87.15, 87.15, 87.16, 87.16, 87.16, 87.17, 87.17, 87.17, 87.18,
   87.18, 87.18, 87.19, 87.19, 87.19, 87.2, 87.2, 87.2, 87.2, 87.21,
   87.21, 87.21, 87.21, 87.21, 87.22, 87.22, 87.22, 87.22, 87.22, 87.22],
  // p08
  [80.6, 82.6, 83.8, 84.6, 85.1, 85.4, 85.6, 85.75, 85.86, 85.95,
   86.01, 86.06, 86.11, 86.16, 86.2, 86.23, 86.26, 86.28, 86.3, 86.32,
   86.35, 86.37, 86.4, 86.42, 86.45, 86.47, 86.49, 86.51, 86.53, 86.55,
   86.56, 86.57, 86.58, 86.59, 86.6, 86.61, 86.62, 86.63, 86.64, 86.65,
   86.66, 86.66, 86.67, 86.67, 86.68, 86.68, 86.69, 86.69, 86.69, 86.7,
   86.7, 86.7, 86.7, 86.71, 86.71, 86.71, 86.71, 86.71, 86.71, 86.72,
   86.72, 86.72, 86.72, 86.72, 86.72, 86.72, 86.72, 86.72, 86.72, 86.72,
   86.72, 86.72, 86.72, 86.72, 86.72, 86.72, 86.72, 86.72, 86.72, 86.72,
   86.72, 86.72, 86.72, 86.72, 86.72, 86.72, 86.72, 86.72, 86.72, 86.72,
   86.72, 86.72, 86.72, 86.72, 86.72, 86.72, 86.72, 86.72, 86.72, 86.72],
  // p09
  [80.75, 82.6, 83.6, 84.3, 84.8, 85.1, 85.35, 85.55, 85.72, 85.85,
   85.93, 86, 86.06, 86.11, 86.15, 86.18, 86.21, 86.24, 86.27, 86.3,
   86.31, 86.33, 86.34, 86.36, 86.38, 86.39, 86.4, 86.41, 86.41, 86.42,
   86.42, 86.43, 86.43, 86.43, 86.44, 86.44, 86.44, 86.44, 86.45, 86.45,
   86.45, 86.45, 86.45, 86.45, 86.45, 86.45, 86.45, 86.45, 86.45, 86.45,
   86.45, 86.45, 86.45, 86.45, 86.45, 86.45, 86.45, 86.45, 86.45, 86.45,
   86.46, 86.46, 86.46, 86.46, 86.46, 86.46, 86.46, 86.46, 86.46, 86.46,
   86.46, 86.46, 86.46, 86.46, 86.46, 86.46, 86.46, 86.46, 86.46, 86.46,
   86.46, 86.46, 86.46, 86.46, 86.46, 86.46, 86.46, 86.46, 86.46, 86.46,
   86.46, 86.46, 86.46, 86.46, 86.46, 86.46, 86.46, 86.46, 86.46, 86.46],
  // p10
  [80.9, 82.9, 83.8, 84.6, 85.1, 85.35, 85.5, 85.6, 85.7, 85.8,
   85.87, 85.93, 85.99, 86.05, 86.1, 86.15, 86.19, 86.23, 86.27, 86.3,
   86.34, 86.38, 86.42, 86.46, 86.5, 86.53, 86.56, 86.59, 86.62, 86.65,
   86.67, 86.69, 86.71, 86.73, 86.75, 86.77, 86.79, 86.81, 86.83, 86.85,
   86.86, 86.88, 86.89, 86.91, 86.92, 86.94, 86.95, 86.97, 86.98, 87,
   87, 87.01, 87.01, 87.02, 87.02, 87.03, 87.03, 87.04, 87.04, 87.05,
   87.05, 87.05, 87.06, 87.06, 87.06, 87.07, 87.07, 87.07, 87.08, 87.08,
   87.08, 87.08, 87.09, 87.09, 87.09, 87.09, 87.1, 87.1, 87.1, 87.1,
   87.1, 87.1, 87.11, 87.11, 87.11, 87.11, 87.11, 87.11, 87.11, 87.12,
   87.12, 87.12, 87.12, 87.12, 87.12, 87.12, 87.12, 87.12, 87.12, 87.12]
];

// ---- Wine ----
const wine = [
  // p00
  [85.8, 87.3, 88, 88.5, 88.9, 89.2, 89.45, 89.7, 89.9, 90.1,
   90.26, 90.38, 90.49, 90.59, 90.68, 90.77, 90.85, 90.94, 91.03, 91.12,
   91.18, 91.25, 91.31, 91.38, 91.46, 91.54, 91.63, 91.71, 91.78, 91.84,
   91.91, 91.97, 92.04, 92.1, 92.17, 92.2, 92.24, 92.27, 92.3, 92.35,
   92.4, 92.45, 92.5, 92.53, 92.56, 92.59, 92.62, 92.65, 92.68, 92.71,
   92.74, 92.77, 92.8, 92.83, 92.86, 92.89, 92.91, 92.94, 92.97, 93,
   93.02, 93.04, 93.05, 93.07, 93.09, 93.11, 93.12, 93.14, 93.16, 93.18,
   93.19, 93.21, 93.23, 93.25, 93.26, 93.28, 93.3, 93.32, 93.33, 93.35,
   93.37, 93.39, 93.4, 93.42, 93.44, 93.46, 93.47, 93.49, 93.51, 93.53,
   93.54, 93.56, 93.58, 93.6, 93.61, 93.63, 93.65, 93.67, 93.68, 93.7],
  // p01
  [87.5, 89.2, 90.3, 91.1, 91.7, 92.2, 92.6, 93, 93.4, 93.7,
   93.9, 94.1, 94.28, 94.42, 94.52, 94.6, 94.68, 94.77, 94.86, 94.94,
   95.01, 95.08, 95.14, 95.2, 95.25, 95.3, 95.35, 95.4, 95.44, 95.48,
   95.52, 95.56, 95.6, 95.64, 95.68, 95.71, 95.74, 95.77, 95.8, 95.83,
   95.86, 95.89, 95.92, 95.95, 95.97, 95.99, 96.01, 96.03, 96.05, 96.06,
   96.07, 96.08, 96.09, 96.1, 96.11, 96.12, 96.13, 96.14, 96.15, 96.15,
   96.16, 96.17, 96.17, 96.18, 96.18, 96.19, 96.19, 96.2, 96.2, 96.21,
   96.21, 96.22, 96.22, 96.22, 96.23, 96.23, 96.23, 96.24, 96.24, 96.24,
   96.25, 96.25, 96.25, 96.26, 96.26, 96.26, 96.27, 96.27, 96.27, 96.28,
   96.28, 96.28, 96.28, 96.29, 96.29, 96.29, 96.29, 96.3, 96.3, 96.3],
  // p02
  [88.9, 90.3, 91.6, 92.5, 93.2, 93.8, 94.25, 94.65, 94.95, 95.2,
   95.35, 95.45, 95.55, 95.65, 95.72, 95.79, 95.86, 95.92, 95.98, 96.03,
   96.06, 96.09, 96.11, 96.13, 96.15, 96.16, 96.17, 96.18, 96.19, 96.2,
   96.2, 96.21, 96.21, 96.22, 96.22, 96.22, 96.23, 96.23, 96.23, 96.24,
   96.24, 96.24, 96.24, 96.24, 96.24, 96.25, 96.25, 96.25, 96.25, 96.25,
   96.25, 96.25, 96.25, 96.25, 96.25, 96.26, 96.26, 96.26, 96.26, 96.26,
   96.26, 96.26, 96.26, 96.26, 96.26, 96.27, 96.27, 96.27, 96.27, 96.27,
   96.27, 96.27, 96.27, 96.27, 96.27, 96.28, 96.28, 96.28, 96.28, 96.28,
   96.28, 96.28, 96.28, 96.28, 96.28, 96.29, 96.29, 96.29, 96.29, 96.29,
   96.29, 96.29, 96.29, 96.29, 96.29, 96.3, 96.3, 96.3, 96.3, 96.3],
  // p03
  [90.06, 92.3, 93.8, 94.8, 95.4, 95.75, 95.93, 96.05, 96.13, 96.2,
   96.24, 96.27, 96.29, 96.3, 96.31, 96.32, 96.33, 96.34, 96.34, 96.35,
   96.36, 96.36, 96.36, 96.36, 96.36, 96.36, 96.36, 96.36, 96.36, 96.36,
   96.36, 96.36, 96.36, 96.36, 96.36, 96.36, 96.36, 96.36, 96.36, 96.36,
   96.38, 96.38, 96.38, 96.38, 96.38, 96.38, 96.38, 96.38, 96.38, 96.38,
   96.38, 96.38, 96.38, 96.38, 96.38, 96.38, 96.38, 96.38, 96.38, 96.38,
   96.38, 96.38, 96.38, 96.38, 96.38, 96.38, 96.38, 96.38, 96.38, 96.38,
   96.4, 96.4, 96.4, 96.4, 96.4, 96.4, 96.4, 96.4, 96.4, 96.4,
   96.4, 96.4, 96.4, 96.4, 96.4, 96.4, 96.4, 96.4, 96.4, 96.4,
   96.4, 96.4, 96.4, 96.4, 96.4, 96.4, 96.4, 96.4, 96.4, 96.4],
  // p04
  [89.15, 91.6, 93.2, 94.3, 95, 95.45, 95.72, 95.9, 96.02, 96.1,
   96.15, 96.19, 96.22, 96.24, 96.25, 96.27, 96.28, 96.29, 96.3, 96.3,
   96.31, 96.31, 96.31, 96.31, 96.31, 96.31, 96.31, 96.31, 96.31, 96.31,
   96.31, 96.31, 96.31, 96.31, 96.31, 96.31, 96.31, 96.31, 96.31, 96.31,
   96.33, 96.33, 96.33, 96.33, 96.33, 96.33, 96.33, 96.33, 96.33, 96.33,
   96.33, 96.33, 96.33, 96.33, 96.33, 96.33, 96.33, 96.33, 96.33, 96.33,
   96.33, 96.33, 96.33, 96.33, 96.33, 96.33, 96.33, 96.33, 96.33, 96.33,
   96.35, 96.35, 96.35, 96.35, 96.35, 96.35, 96.35, 96.35, 96.35, 96.35,
   96.35, 96.35, 96.35, 96.35, 96.35, 96.35, 96.35, 96.35, 96.35, 96.35,
   96.35, 96.35, 96.35, 96.35, 96.35, 96.35, 96.35, 96.35, 96.35, 96.35],
  // p05
  [88.67, 91, 92.7, 93.9, 94.7, 95.2, 95.55, 95.75, 95.9, 96,
   96.06, 96.1, 96.14, 96.17, 96.2, 96.22, 96.24, 96.26, 96.27, 96.28,
   96.29, 96.29, 96.29, 96.29, 96.29, 96.29, 96.29, 96.29, 96.29, 96.29,
   96.29, 96.29, 96.29, 96.29, 96.29, 96.29, 96.29, 96.29, 96.29, 96.29,
   96.3, 96.3, 96.3, 96.3, 96.3, 96.3, 96.3, 96.3, 96.3, 96.3,
   96.3, 96.3, 96.3, 96.3, 96.3, 96.3, 96.3, 96.3, 96.3, 96.3,
   96.3, 96.3, 96.3, 96.3, 96.3, 96.3, 96.3, 96.3, 96.3, 96.3,
   96.32, 96.32, 96.32, 96.32, 96.32, 96.32, 96.32, 96.32, 96.32, 96.32,
   96.32, 96.32, 96.32, 96.32, 96.32, 96.32, 96.32, 96.32, 96.32, 96.32,
   96.32, 96.32, 96.32, 96.32, 96.32, 96.32, 96.32, 96.32, 96.32, 96.32],
  // p06
  [89.47, 92, 93.6, 94.6, 95.2, 95.6, 95.85, 96, 96.1, 96.15,
   96.2, 96.23, 96.26, 96.28, 96.3, 96.31, 96.32, 96.33, 96.34, 96.35,
   96.36, 96.36, 96.36, 96.36, 96.36, 96.36, 96.36, 96.36, 96.36, 96.36,
   96.36, 96.36, 96.36, 96.36, 96.36, 96.36, 96.36, 96.36, 96.36, 96.36,
   96.38, 96.38, 96.38, 96.38, 96.38, 96.38, 96.38, 96.38, 96.38, 96.38,
   96.38, 96.38, 96.38, 96.38, 96.38, 96.38, 96.38, 96.38, 96.38, 96.38,
   96.38, 96.38, 96.38, 96.38, 96.38, 96.38, 96.38, 96.38, 96.38, 96.38,
   96.4, 96.4, 96.4, 96.4, 96.4, 96.4, 96.4, 96.4, 96.4, 96.4,
   96.4, 96.4, 96.4, 96.4, 96.4, 96.4, 96.4, 96.4, 96.4, 96.4,
   96.4, 96.4, 96.4, 96.4, 96.4, 96.4, 96.4, 96.4, 96.4, 96.4],
  // p07
  [91.3, 93.3, 94.7, 95.5, 95.9, 96.1, 96.2, 96.25, 96.28, 96.3,
   96.31, 96.32, 96.33, 96.34, 96.34, 96.35, 96.35, 96.35, 96.35, 96.35,
   96.36, 96.36, 96.36, 96.36, 96.36, 96.36, 96.36, 96.36, 96.36, 96.36,
   96.36, 96.36, 96.36, 96.36, 96.36, 96.36, 96.36, 96.36, 96.36, 96.36,
   96.38, 96.38, 96.38, 96.38, 96.38, 96.38, 96.38, 96.38, 96.38, 96.38,
   96.38, 96.38, 96.38, 96.38, 96.38, 96.38, 96.38, 96.38, 96.38, 96.38,
   96.38, 96.38, 96.38, 96.38, 96.38, 96.38, 96.38, 96.38, 96.38, 96.38,
   96.4, 96.4, 96.4, 96.4, 96.4, 96.4, 96.4, 96.4, 96.4, 96.4,
   96.4, 96.4, 96.4, 96.4, 96.4, 96.4, 96.4, 96.4, 96.4, 96.4,
   96.4, 96.4, 96.4, 96.4, 96.4, 96.4, 96.4, 96.4, 96.4, 96.4],
  // p08
  [91.1, 93, 94.4, 95.3, 95.8, 96.05, 96.15, 96.2, 96.23, 96.25,
   96.26, 96.27, 96.28, 96.29, 96.29, 96.3, 96.3, 96.3, 96.3, 96.3,
   96.31, 96.31, 96.31, 96.31, 96.31, 96.31, 96.31, 96.31, 96.31, 96.31,
   96.31, 96.31, 96.31, 96.31, 96.31, 96.31, 96.31, 96.31, 96.31, 96.31,
   96.33, 96.33, 96.33, 96.33, 96.33, 96.33, 96.33, 96.33, 96.33, 96.33,
   96.33, 96.33, 96.33, 96.33, 96.33, 96.33, 96.33, 96.33, 96.33, 96.33,
   96.33, 96.33, 96.33, 96.33, 96.33, 96.33, 96.33, 96.33, 96.33, 96.33,
   96.35, 96.35, 96.35, 96.35, 96.35, 96.35, 96.35, 96.35, 96.35, 96.35,
   96.35, 96.35, 96.35, 96.35, 96.35, 96.35, 96.35, 96.35, 96.35, 96.35,
   96.35, 96.35, 96.35, 96.35, 96.35, 96.35, 96.35, 96.35, 96.35, 96.35],
  // p09
  [90.6, 92.8, 94.2, 95.1, 95.6, 95.9, 96.05, 96.15, 96.22, 96.28,
   96.32, 96.35, 96.37, 96.39, 96.4, 96.41, 96.42, 96.42, 96.43, 96.43,
   96.44, 96.44, 96.44, 96.44, 96.44, 96.44, 96.44, 96.44, 96.44, 96.44,
   96.44, 96.44, 96.44, 96.44, 96.44, 96.44, 96.44, 96.44, 96.44, 96.44,
   96.45, 96.45, 96.45, 96.45, 96.45, 96.45, 96.45, 96.45, 96.45, 96.45,
   96.45, 96.45, 96.45, 96.45, 96.45, 96.45, 96.45, 96.45, 96.45, 96.45,
   96.45, 96.45, 96.45, 96.45, 96.45, 96.45, 96.45, 96.45, 96.45, 96.45,
   96.45, 96.45, 96.45, 96.45, 96.45, 96.45, 96.45, 96.45, 96.45, 96.45,
   96.45, 96.45, 96.45, 96.45, 96.45, 96.45, 96.45, 96.45, 96.45, 96.45,
   96.45, 96.45, 96.45, 96.45, 96.45, 96.45, 96.45, 96.45, 96.45, 96.45],
  // p10
  [88.2, 90.7, 92.5, 93.7, 94.5, 95.1, 95.45, 95.7, 95.85, 95.95,
   96.03, 96.1, 96.14, 96.17, 96.2, 96.22, 96.23, 96.24, 96.25, 96.25,
   96.26, 96.26, 96.26, 96.26, 96.26, 96.26, 96.26, 96.26, 96.26, 96.26,
   96.26, 96.26, 96.26, 96.26, 96.26, 96.26, 96.26, 96.26, 96.26, 96.26,
   96.28, 96.28, 96.28, 96.28, 96.28, 96.28, 96.28, 96.28, 96.28, 96.28,
   96.28, 96.28, 96.28, 96.28, 96.28, 96.28, 96.28, 96.28, 96.28, 96.28,
   96.28, 96.28, 96.28, 96.28, 96.28, 96.28, 96.28, 96.28, 96.28, 96.28,
   96.3, 96.3, 96.3, 96.3, 96.3, 96.3, 96.3, 96.3, 96.3, 96.3,
   96.3, 96.3, 96.3, 96.3, 96.3, 96.3, 96.3, 96.3, 96.3, 96.3,
   96.3, 96.3, 96.3, 96.3, 96.3, 96.3, 96.3, 96.3, 96.3, 96.3]
];

const SANS = "'Liberation Sans', Arial, Helvetica, sans-serif";

// marker per series: p00 .. p10
const markerShapes = ["square", "circle", "up", "down", "diamond", "left", "right", "circle", "star", "circle", "plus"];
const markerFilled = [true, false, true, false, false, false, false, true, true, false, false];

function makeMarker(shape, filled) {
  const s = 9, c = 4.5;
  const cv = document.createElement("canvas");
  cv.width = s; cv.height = s;
  const g = cv.getContext("2d");
  g.lineWidth = 1;
  g.strokeStyle = filled ? "#000" : "#8a8a8a";
  g.fillStyle = filled ? "#000" : "#fff";
  g.beginPath();
  if (shape === "square") {
    g.rect(c - 2, c - 2, 4, 4);
  } else if (shape === "circle") {
    g.arc(c, c, 2.4, 0, Math.PI * 2);
  } else if (shape === "up") {
    g.moveTo(c, c - 3); g.lineTo(c + 3, c + 2.2); g.lineTo(c - 3, c + 2.2); g.closePath();
  } else if (shape === "down") {
    g.moveTo(c, c + 3); g.lineTo(c + 3, c - 2.2); g.lineTo(c - 3, c - 2.2); g.closePath();
  } else if (shape === "left") {
    g.moveTo(c - 3, c); g.lineTo(c + 2.2, c - 3); g.lineTo(c + 2.2, c + 3); g.closePath();
  } else if (shape === "right") {
    g.moveTo(c + 3, c); g.lineTo(c - 2.2, c - 3); g.lineTo(c - 2.2, c + 3); g.closePath();
  } else if (shape === "diamond") {
    g.moveTo(c, c - 3); g.lineTo(c + 3, c); g.lineTo(c, c + 3); g.lineTo(c - 3, c); g.closePath();
  } else if (shape === "pentagon") {
    for (let k = 0; k < 5; k++) {
      const a = -Math.PI / 2 + k * 2 * Math.PI / 5;
      g.lineTo(c + 2.8 * Math.cos(a), c + 2.8 * Math.sin(a));
    }
    g.closePath();
  } else if (shape === "star") {
    for (let k = 0; k < 10; k++) {
      const a = -Math.PI / 2 + k * Math.PI / 5;
      const r = k % 2 ? 1.4 : 3.4;
      g.lineTo(c + r * Math.cos(a), c + r * Math.sin(a));
    }
    g.closePath();
  } else if (shape === "plus") {
    g.moveTo(c - 3, c); g.lineTo(c + 3, c);
    g.moveTo(c, c - 3); g.lineTo(c, c + 3);
    g.stroke();
    return cv;
  }
  g.fill();
  g.stroke();
  return cv;
}

// horizontally squeezed text, gives the condensed face of the figure
function squeezed(ctx, text, x, y, o) {
  ctx.save();
  ctx.translate(x, y);
  if (o.rotate) ctx.rotate(o.rotate);
  ctx.scale(o.sx, 1);
  ctx.font = o.font;
  ctx.textAlign = o.align || "left";
  ctx.textBaseline = o.baseline || "alphabetic";
  ctx.fillStyle = o.color || "#111";
  if (o.spacing) ctx.letterSpacing = o.spacing + "px";
  ctx.fillText(text, 0, 0);
  if (o.stroke) {
    ctx.lineWidth = o.stroke;
    ctx.strokeStyle = ctx.fillStyle;
    ctx.strokeText(text, 0, 0);
  }
  ctx.restore();
}

const TICK_FONT = "21px " + SANS;
const TICK_SX = 0.75;

// tick labels, axis titles, data set name and the legend in the lower right
const panelDecor = {
  id: "panelDecor",
  afterDraw(chart, args, o) {
    const ctx = chart.ctx;
    const xs = chart.scales.x, ys = chart.scales.y;

    xs.ticks.forEach(t => {
      squeezed(ctx, String(t.value), xs.getPixelForValue(t.value), xs.top + 19,
        { font: TICK_FONT, sx: TICK_SX, align: "center", baseline: "middle" });
    });
    ys.ticks.forEach(t => {
      if (!o.yLabels.includes(t.value)) return;
      squeezed(ctx, String(t.value), ys.right - 14, ys.getPixelForValue(t.value),
        { font: TICK_FONT, sx: TICK_SX, align: "right", baseline: "middle" });
    });

    squeezed(ctx, "Accuracy", o.accX, o.accTop,
      { font: "21px " + SANS, sx: 0.84, align: "right", rotate: -Math.PI / 2 });
    squeezed(ctx, "Iteration", o.iterRight, o.iterBase,
      { font: "21px " + SANS, sx: 0.84, align: "right" });

    squeezed(ctx, o.title, o.titleX, o.titleY,
      { font: "bold 23px " + SANS, sx: 0.78, align: "center", baseline: "middle",
        spacing: 3.3, stroke: 1, color: "#000" });

    ctx.save();
    ctx.font = "16px " + SANS;
    ctx.textAlign = "left";
    ctx.textBaseline = "middle";
    ctx.fillStyle = "#111";
    chart.data.datasets.forEach((ds, i) => {
      const y = Math.round(o.legendY + i * o.legendStep) + 0.5;
      const x0 = o.legendX;
      ctx.strokeStyle = ds.borderColor;
      ctx.lineWidth = 1.3;
      ctx.beginPath();
      ctx.moveTo(x0, y); ctx.lineTo(x0 + 13, y);
      ctx.moveTo(x0 + 23, y); ctx.lineTo(x0 + 37, y);
      ctx.stroke();
      const m = ds.pointStyle;
      ctx.drawImage(m, Math.round(x0 + 18.5 - m.width / 2), Math.round(y - m.height / 2));
      ctx.fillText(ds.label, x0 + 41, y + 1);
    });
    ctx.restore();
  }
};

const panels = [
  { id: "ion", title: "Ionospere", series: ionospere, yMin: 82, yMax: 92.5, yTicks: ionYTicks, yLabels: ionYLabels,
    padTop: 18, padRight: 24, yWidth: 92, xHeight: 68, p09: "circle",
    accX: 28, accTop: 10, iterRight: 554, iterBase: 386, legendX: 456, legendY: 137, titleX: 296, titleY: 237 },
  { id: "hep", title: "Hepatitis", series: hepatitis, yMin: 61.05, yMax: 95.9, yTicks: hepYTicks, yLabels: hepYLabels,
    padTop: 18, padRight: 6, yWidth: 109, xHeight: 67, p09: "pentagon",
    accX: 56, accTop: 10, iterRight: 569, iterBase: 386, legendX: 473, legendY: 137, titleX: 302, titleY: 237 },
  { id: "spe", title: "Spectfheart", series: spectfheart, yMin: 78, yMax: 88.46, yTicks: speYTicks, yLabels: speYLabels,
    padTop: 29, padRight: 24, yWidth: 92, xHeight: 57, p09: "circle",
    accX: 28, accTop: 29, iterRight: 554, iterBase: 402, legendX: 457, legendY: 146, titleX: 301, titleY: 271 },
  { id: "win", title: "Wine", series: wine, yMin: 85.05, yMax: 97.6, yTicks: winYTicks, yLabels: winYLabels,
    padTop: 30, padRight: 6, yWidth: 109, xHeight: 57, p09: "pentagon",
    accX: 56, accTop: 31, iterRight: 569, iterBase: 402, legendX: 473, legendY: 145, titleX: 277, titleY: 271 }
];

function buildChart(p) {
  const datasets = p.series.map((vals, i) => ({
    label: seriesNames[i],
    data: vals.map((v, k) => ({ x: iterations[k], y: v })),
    borderColor: markerFilled[i] ? "#222" : "#8c8c8c",
    borderWidth: 1,
    pointStyle: makeMarker(i === 9 ? p.p09 : markerShapes[i], markerFilled[i]),
    pointRadius: 3,
    pointHoverRadius: 3,
    tension: 0,
    fill: false
  }));

  const axisGrid = { drawOnChartArea: false, drawTicks: true, tickLength: 6, tickWidth: 2, tickColor: "#000" };
  const axisBorder = { display: true, color: "#000", width: 2 };

  return new Chart(document.getElementById(p.id), {
    type: "line",
    data: { datasets },
    options: {
      responsive: true,
      maintainAspectRatio: false,
      animation: false,
      events: [],
      parsing: false,
      normalized: true,
      layout: { padding: { left: 0, top: p.padTop, right: p.padRight, bottom: 0 } },
      plugins: {
        legend: { display: false },
        tooltip: { enabled: false },
        panelDecor: {
          title: p.title, yLabels: p.yLabels, accX: p.accX, accTop: p.accTop,
          iterRight: p.iterRight, iterBase: p.iterBase,
          legendX: p.legendX, legendY: p.legendY, legendStep: 18.35, titleX: p.titleX, titleY: p.titleY
        }
      },
      scales: {
        x: {
          type: "linear",
          min: -1.15,
          max: 104.7,
          afterBuildTicks: s => { s.ticks = xTicks.map(v => ({ value: v })); },
          afterFit: s => { s.height = p.xHeight; },
          ticks: { display: false },
          grid: Object.assign({}, axisGrid, { tickLength: 7 }),
          border: axisBorder
        },
        y: {
          type: "linear",
          min: p.yMin,
          max: p.yMax,
          afterBuildTicks: s => { s.ticks = p.yTicks.map(v => ({ value: v })); },
          afterFit: s => { s.width = p.yWidth; },
          ticks: { display: false },
          grid: axisGrid,
          border: axisBorder
        }
      }
    },
    plugins: [panelDecor]
  });
}

panels.forEach(buildChart);
</script>
</body>
</html>
